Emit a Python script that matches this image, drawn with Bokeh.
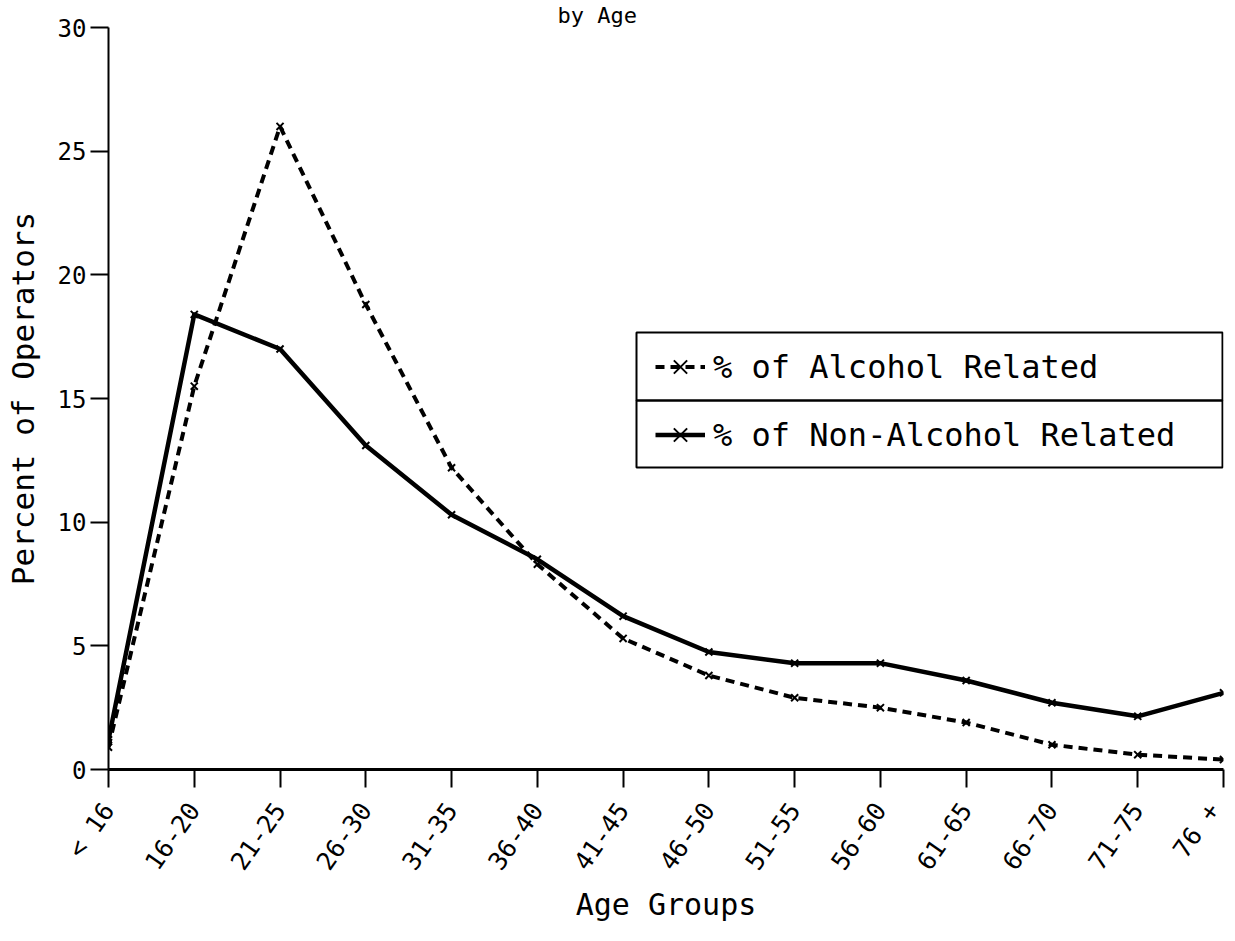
import math
from bokeh.plotting import figure
from bokeh.models import Range1d, FixedTicker, BoxAnnotation, Legend, LegendItem
from bokeh.embed import file_html
from bokeh.resources import INLINE

# ---- data ----
age_groups = ["< 16", "16-20", "21-25", "26-30", "31-35", "36-40", "41-45",
              "46-50", "51-55", "56-60", "61-65", "66-70", "71-75", "76 +"]
alcohol_pct = [0.9, 15.5, 26.0, 18.8, 12.2, 8.3, 5.3, 3.8, 2.9, 2.5, 1.9, 1.0, 0.6, 0.4]
non_alcohol_pct = [1.2, 18.4, 17.0, 13.1, 10.3, 8.5, 6.2, 4.75, 4.3, 4.3, 3.6, 2.7, 2.15, 3.1]
y_ticks = [0, 5, 10, 15, 20, 25, 30]
series_labels = ["% of Alcohol Related", "% of Non-Alcohol Related"]
title_text = "by Age"
x_title = "Age Groups"
y_title = "Percent of Operators"

MONO = "DejaVu Sans Mono"
INK = "black"

x = list(range(len(age_groups)))

W, H = 1225, 925
BL, BR, BT, BB = 108, 2, 22, 156
FW = W - BL - BR

p = figure(width=W, height=H,
           x_range=Range1d(0, len(age_groups) - 1), y_range=Range1d(0, 30),
           output_backend="svg", toolbar_location=None,
           min_border_left=BL, min_border_right=BR,
           min_border_top=BT, min_border_bottom=BB)
p.outline_line_color = None
p.grid.visible = False
p.background_fill_color = "white"

# title (only the "by Age" line is visible in the reference)
p.title.text = title_text
p.title.align = "left"
p.title.offset = 597 - BL - 40
p.title.standoff = 0
p.title.text_font = MONO
p.title.text_font_size = "22px"
p.title.text_font_style = "normal"
p.title.text_color = INK

r_alc = p.line(x, alcohol_pct, line_width=4, line_dash="9 6", color=INK)
m_alc = p.scatter(x, alcohol_pct, marker="x", size=10, line_width=2, color=INK)
r_non = p.line(x, non_alcohol_pct, line_width=4.5, color=INK, line_join="round")
m_non = p.scatter(x, non_alcohol_pct, marker="x", size=10, line_width=2, color=INK)

# x axis
xa = p.xaxis[0]
xa.ticker = FixedTicker(ticks=x)
xa.major_label_overrides = {i: lab for i, lab in enumerate(age_groups)}
xa.major_label_orientation = math.radians(55)
xa.axis_line_width = 3
xa.axis_line_color = INK
xa.major_tick_line_width = 2
xa.major_tick_line_color = INK
xa.major_tick_out = 18
xa.major_tick_in = 0
xa.minor_tick_out = 0
xa.major_label_standoff = 18
xa.major_label_text_font = MONO
xa.major_label_text_font_size = "25px"
xa.major_label_text_color = INK
xa.axis_label = x_title
xa.axis_label_text_font = MONO
xa.axis_label_text_font_style = "normal"
xa.axis_label_text_font_size = "30px"
xa.axis_label_text_color = INK
xa.axis_label_standoff = 0

# y axis
ya = p.yaxis[0]
ya.ticker = FixedTicker(ticks=y_ticks)
ya.axis_line_width = 2
ya.axis_line_color = INK
ya.major_tick_line_width = 2
ya.major_tick_line_color = INK
ya.major_tick_out = 18
ya.major_tick_in = 0
ya.minor_tick_out = 0
ya.major_label_standoff = 4
ya.major_label_text_font = MONO
ya.major_label_text_font_size = "24px"
ya.major_label_text_color = INK
ya.axis_label = y_title
ya.axis_label_text_font = MONO
ya.axis_label_text_font_style = "normal"
ya.axis_label_text_font_size = "31px"
ya.axis_label_text_color = INK
ya.axis_label_standoff = 14

# legend boxes (two rows)
box_kw = dict(left_units="screen", right_units="screen",
              bottom_units="screen", top_units="screen",
              fill_alpha=0, line_color=INK, line_alpha=1, line_width=2)
p.add_layout(BoxAnnotation(left=528, right=FW - 1, bottom=369, top=437, **box_kw))
p.add_layout(BoxAnnotation(left=528, right=FW - 1, bottom=302, top=369, **box_kw))

legend = Legend(items=[LegendItem(label=series_labels[0], renderers=[r_alc, m_alc]),
                       LegendItem(label=series_labels[1], renderers=[r_non, m_non])],
                location=(547, 311), padding=0, margin=0, spacing=21,
                glyph_width=50, glyph_height=47, label_standoff=8,
                label_text_font=MONO, label_text_font_size="32px",
                label_text_color=INK,
                border_line_alpha=0, background_fill_alpha=0)
p.add_layout(legend)

open("out.html", "w").write(file_html(p, INLINE))
